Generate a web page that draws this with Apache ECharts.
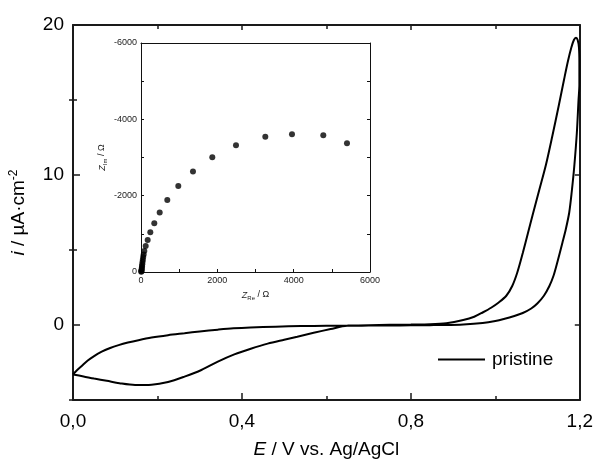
<!DOCTYPE html>
<html>
<head>
<meta charset="utf-8">
<script src="https://cdn.jsdelivr.net/npm/echarts@6/dist/echarts.min.js"></script>
<style>
html,body{margin:0;padding:0;background:#fff;}
#chart{width:596px;height:464px;}
</style>
</head>
<body>
<div id="chart"></div>
<script>
// Cyclic voltammogram (E / V vs Ag/AgCl, i / µA cm^-2), in scan order
const cvPotential = [0, 0.01, 0.02, 0.035, 0.05, 0.068, 0.088, 0.108, 0.13, 0.155, 0.186, 0.225, 0.264, 0.30, 0.343, 0.38, 0.42, 0.48, 0.54, 0.60, 0.65, 0.70, 0.75, 0.80, 0.845, 0.884, 0.924, 0.95, 0.971, 0.99, 1.008, 1.026, 1.04, 1.052, 1.065, 1.077, 1.088, 1.104, 1.12, 1.135, 1.15, 1.163, 1.172, 1.18, 1.186, 1.191, 1.195, 1.198, 1.199, 1.199, 1.197, 1.193, 1.187, 1.181, 1.175, 1.167, 1.159, 1.147, 1.138, 1.128, 1.115, 1.10, 1.085, 1.065, 1.045, 1.02, 1.0, 0.97, 0.924, 0.88, 0.845, 0.80, 0.75, 0.70, 0.649, 0.61, 0.57, 0.531, 0.50, 0.461, 0.421, 0.382, 0.343, 0.304, 0.264, 0.225, 0.186, 0.147, 0.11, 0.08, 0.05, 0.025, 0];
const cvCurrent = [-3.3, -3.0, -2.75, -2.37, -2.07, -1.78, -1.53, -1.34, -1.17, -1.01, -0.84, -0.68, -0.55, -0.43, -0.31, -0.22, -0.16, -0.11, -0.07, -0.05, -0.04, -0.01, 0.01, 0.03, 0.05, 0.12, 0.33, 0.55, 0.85, 1.15, 1.5, 1.95, 2.6, 3.5, 4.8, 6.1, 7.3, 9.0, 10.7, 12.6, 14.6, 16.4, 17.6, 18.5, 19.0, 19.15, 19.0, 18.5, 17.5, 16.0, 15.0, 12.8, 10.6, 8.9, 7.5, 6.4, 5.5, 4.2, 3.3, 2.6, 1.95, 1.45, 1.1, 0.8, 0.6, 0.4, 0.27, 0.14, 0.04, 0.0, -0.01, -0.02, -0.03, -0.04, -0.05, -0.27, -0.52, -0.78, -0.98, -1.24, -1.58, -1.96, -2.44, -3.0, -3.44, -3.8, -3.98, -4.0, -3.88, -3.72, -3.57, -3.43, -3.3];
const cvName = 'pristine';

// Nyquist inset (Z_Re / Ω, Z_Im / Ω)
const zRe = [7, 10, 14, 18, 22, 27, 33, 40, 48, 58, 70, 87, 123, 175, 244, 348, 490, 689, 977, 1362, 1868, 2489, 3257, 3956, 4776, 5397];
const zIm = [-5, -20, -45, -75, -110, -150, -200, -260, -320, -390, -460, -551, -682, -840, -1041, -1278, -1556, -1889, -2256, -2631, -3009, -3324, -3542, -3612, -3586, -3376];

// Tick values
const mainYMajor = [0, 10, 20];
const mainYMinor = [-5, 5, 15];

const FONT = 'Liberation Sans, Arial, sans-serif';
const AX = '#1a1a1a';

const cvData = cvPotential.map((e, k) => [e, cvCurrent[k]]);
const nyData = zRe.map((r, k) => [r, zIm[k]]);

const chart = echarts.init(document.getElementById('chart'), null, {renderer: 'canvas'});

const mainLine = {show: true, onZero: false, lineStyle: {color: AX, width: 2}};
const insetLine = {show: true, onZero: false, lineStyle: {color: '#111', width: 1}};

chart.setOption({
  animation: false,
  backgroundColor: '#fff',
  textStyle: {fontFamily: FONT},
  grid: [
    {left: 71, top: 25, right: 15, bottom: 64, containLabel: false},
    {left: 141, top: 43, right: 226, bottom: 192, containLabel: false}
  ],
  legend: {
    data: [{name: cvName, icon: 'rect'}],
    left: 433, top: 345,
    itemWidth: 47, itemHeight: 2,
    textStyle: {fontSize: 19, color: '#000', fontFamily: FONT, padding: [0, 0, 0, 2]}
  },
  xAxis: [
    {
      type: 'value', gridIndex: 0, position: 'bottom', min: 0, max: 1.2, interval: 0.4,
      axisLine: mainLine,
      axisTick: {show: true, inside: true, length: 7, lineStyle: {color: AX, width: 1.5}},
      minorTick: {show: true, splitNumber: 2, length: 4, lineStyle: {color: AX, width: 1.5}},
      axisLabel: {fontSize: 19, color: '#000', margin: 12, fontFamily: FONT,
        formatter: v => v.toFixed(1).replace('.', ',')},
      splitLine: {show: false},
      name: '{it|E} / V vs. Ag/AgCl', nameLocation: 'middle', nameGap: 40,
      nameTextStyle: {fontSize: 19, color: '#000', fontFamily: FONT,
        rich: {it: {fontSize: 19, fontStyle: 'italic', color: '#000', fontFamily: FONT}}}
    },
    {
      type: 'value', gridIndex: 0, position: 'top', min: 0, max: 1.2, interval: 0.4,
      axisLine: mainLine,
      axisTick: {show: true, inside: true, length: 5, lineStyle: {color: AX, width: 1.5}},
      minorTick: {show: true, splitNumber: 2, length: 4, lineStyle: {color: AX, width: 1.5}},
      axisLabel: {show: false}, splitLine: {show: false}
    },
    {
      type: 'value', gridIndex: 1, position: 'bottom', min: 0, max: 6000, interval: 2000,
      axisLine: insetLine,
      axisTick: {show: true, inside: true, length: 3, lineStyle: {color: '#111', width: 1}},
      minorTick: {show: true, splitNumber: 2, length: 3, lineStyle: {color: '#111', width: 1}},
      axisLabel: {fontSize: 9, color: '#222', margin: 4, fontFamily: FONT, formatter: v => String(v)},
      splitLine: {show: false},
      name: '{it|Z}{sub|Re} / Ω', nameLocation: 'middle', nameGap: 17,
      nameTextStyle: {fontSize: 9, color: '#222', fontFamily: FONT,
        rich: {it: {fontSize: 9, fontStyle: 'italic', color: '#222'},
               sub: {fontSize: 6, color: '#222', padding: [6, 0, 0, 0]}}}
    },
    {
      type: 'value', gridIndex: 1, position: 'top', min: 0, max: 6000, interval: 2000,
      axisLine: insetLine,
      axisTick: {show: false}, axisLabel: {show: false}, splitLine: {show: false}
    }
  ],
  yAxis: [
    {
      type: 'value', gridIndex: 0, position: 'left', min: -5, max: 20,
      axisLine: mainLine,
      axisTick: {show: true, inside: true, length: 7, customValues: mainYMajor, lineStyle: {color: AX, width: 1.5}},
      axisLabel: {fontSize: 19, color: '#000', margin: 9, fontFamily: FONT, customValues: mainYMajor},
      splitLine: {show: false},
      name: '{it|i} / µA·cm{sup|-2}', nameLocation: 'middle', nameGap: 44, nameRotate: 90,
      nameTextStyle: {fontSize: 19, color: '#000', fontFamily: FONT,
        rich: {it: {fontSize: 19, fontStyle: 'italic', color: '#000'},
               sup: {fontSize: 12, color: '#000', padding: [0, 0, 9, 0]}}}
    },
    {
      type: 'value', gridIndex: 0, position: 'left', min: -5, max: 20,
      axisLine: {show: false},
      axisTick: {show: true, inside: true, length: 4, customValues: mainYMinor, lineStyle: {color: AX, width: 1.5}},
      axisLabel: {show: false}, splitLine: {show: false}
    },
    {
      type: 'value', gridIndex: 0, position: 'right', min: -5, max: 20,
      axisLine: mainLine,
      axisTick: {show: true, inside: true, length: 5, customValues: mainYMajor, lineStyle: {color: AX, width: 1.5}},
      axisLabel: {show: false}, splitLine: {show: false}
    },
    {
      type: 'value', gridIndex: 0, position: 'right', min: -5, max: 20,
      axisLine: {show: false},
      axisTick: {show: true, inside: true, length: 4, customValues: mainYMinor, lineStyle: {color: AX, width: 1.5}},
      axisLabel: {show: false}, splitLine: {show: false}
    },
    {
      type: 'value', gridIndex: 1, position: 'left', min: -6000, max: 0, interval: 2000, inverse: true,
      axisLine: insetLine,
      axisTick: {show: true, inside: true, length: 3, lineStyle: {color: '#111', width: 1}},
      minorTick: {show: true, splitNumber: 2, length: 3, lineStyle: {color: '#111', width: 1}},
      axisLabel: {fontSize: 9, color: '#222', margin: 4, fontFamily: FONT, formatter: v => String(v)},
      splitLine: {show: false},
      name: '{it|Z}{sub|Im} / Ω', nameLocation: 'middle', nameGap: 33, nameRotate: 90,
      nameTextStyle: {fontSize: 9, color: '#222', fontFamily: FONT,
        rich: {it: {fontSize: 9, fontStyle: 'italic', color: '#222'},
               sub: {fontSize: 6, color: '#222', padding: [6, 0, 0, 0]}}}
    },
    {
      type: 'value', gridIndex: 1, position: 'right', min: -6000, max: 0, interval: 2000, inverse: true,
      axisLine: insetLine,
      axisTick: {show: true, inside: true, length: 3, lineStyle: {color: '#111', width: 1}},
      minorTick: {show: true, splitNumber: 2, length: 3, lineStyle: {color: '#111', width: 1}},
      axisLabel: {show: false}, splitLine: {show: false}
    }
  ],
  series: [
    {
      name: cvName, type: 'line', xAxisIndex: 0, yAxisIndex: 0,
      data: cvData, showSymbol: false, symbol: 'none', smooth: 0.3,
      lineStyle: {color: '#000', width: 2}, itemStyle: {color: '#000'}
    },
    {
      name: 'nyquist', type: 'scatter', xAxisIndex: 2, yAxisIndex: 4,
      data: nyData, symbol: 'circle', symbolSize: 6,
      itemStyle: {color: '#000'}
    }
  ]
});
</script>
</body>
</html>
